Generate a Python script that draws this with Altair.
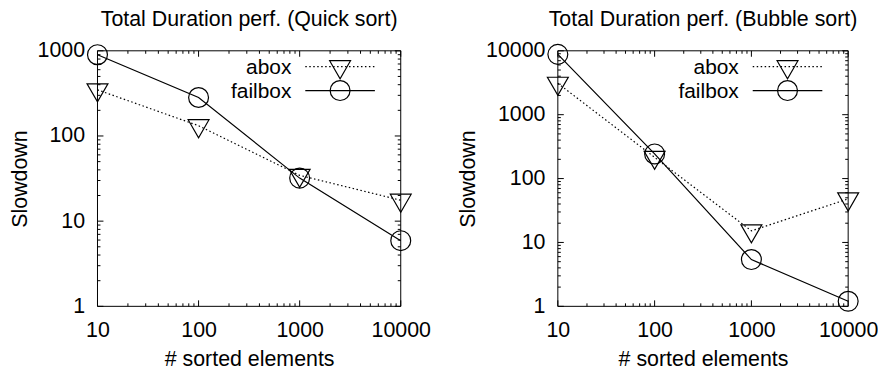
import altair as alt
import pandas as pd

# ---- data ----
x_sizes = [10, 100, 1000, 10000]
quick_abox = [348, 132, 34.5, 17.6]
quick_failbox = [900, 283, 32, 5.9]
bubble_abox = [3100, 215, 15.2, 48]
bubble_failbox = [8800, 243, 5.4, 1.2]

x_ticks = [10, 100, 1000, 10000]
quick_y_ticks = [1, 10, 100, 1000]
bubble_y_ticks = [1, 10, 100, 1000, 10000]
series_names = ["abox", "failbox"]

FONT = "Liberation Sans"
FS = 21.5
KFS = 21
TRI = "M-1,-0.577L1,-0.577L0,1.155Z"
H = 257


def minors(lo, hi):
    out = []
    d = lo
    while d < hi:
        out += [d * k for k in range(2, 10)]
        d *= 10
    return out


def panel(title, abox, failbox, ydom, yticks, W):
    xs = alt.Scale(type="log", domain=[10, 10000], nice=False)
    ys = alt.Scale(type="log", domain=ydom, nice=False)
    xax = alt.Axis(values=x_ticks, format="d", title="# sorted elements")
    yax = alt.Axis(values=yticks, format="d", title="Slowdown")
    df = pd.DataFrame({
        "n": x_sizes * 2,
        "v": abox + failbox,
        "s": [series_names[0]] * 4 + [series_names[1]] * 4,
    })
    base = alt.Chart(df)
    X = alt.X("n:Q", scale=xs, axis=xax)
    Y = alt.Y("v:Q", scale=ys, axis=yax)

    frame = alt.Chart(pd.DataFrame({"k": [0]})).mark_rect(
        fill=None, stroke="black", strokeWidth=1).encode(
        x=alt.value(0), x2=alt.value(W), y=alt.value(0), y2=alt.value(H))

    ab_line = base.transform_filter("datum.s == 'abox'").mark_line(
        color="black", strokeWidth=1.2, strokeDash=[1.5, 2.5]).encode(x=X, y=Y, order="n:Q")
    fb_line = base.transform_filter("datum.s == 'failbox'").mark_line(
        color="black", strokeWidth=1.2).encode(x=X, y=Y, order="n:Q")
    ab_pt = base.transform_filter("datum.s == 'abox'").mark_point(
        shape=TRI, size=441, filled=False, color="black", strokeWidth=1.2, opacity=1).encode(x=X, y=Y)
    fb_pt = base.transform_filter("datum.s == 'failbox'").mark_point(
        shape="circle", size=400, filled=False, color="black", strokeWidth=1.2, opacity=1).encode(x=X, y=Y)

    # inward ticks on all four sides
    ymaj = pd.DataFrame({"v": yticks})
    ymin = pd.DataFrame({"v": minors(ydom[0], ydom[1])})
    xmaj = pd.DataFrame({"n": x_ticks})
    xmin = pd.DataFrame({"n": minors(10, 10000)})
    tick_layers = []
    for d, ln in ((ymaj, 6), (ymin, 3)):
        for x0, x1 in ((0, ln), (W, W - ln)):
            tick_layers.append(alt.Chart(d).mark_rule(color="black", strokeWidth=1).encode(
                y=alt.Y("v:Q", scale=ys, axis=yax), x=alt.value(x0), x2=alt.value(x1)))
    for d, ln in ((xmaj, 6), (xmin, 3)):
        for y0, y1 in ((0, ln), (H, H - ln)):
            tick_layers.append(alt.Chart(d).mark_rule(color="black", strokeWidth=1).encode(
                x=alt.X("n:Q", scale=xs, axis=xax), y=alt.value(y0), y2=alt.value(y1)))

    # key (gnuplot style: label left of sample)
    key = []
    for i, name in enumerate(series_names):
        yy = 16 + 24 * i
        kd = pd.DataFrame({"label": [name]})
        key.append(alt.Chart(kd).mark_text(align="right", baseline="middle", font=FONT,
                                           fontSize=KFS, color="black").encode(
            text="label:N", x=alt.value(W - 110), y=alt.value(yy + 1)))
        rule_kw = dict(color="black", strokeWidth=1.2)
        if i == 0:
            rule_kw["strokeDash"] = [1.5, 2.5]
        key.append(alt.Chart(kd).mark_rule(**rule_kw).encode(
            x=alt.value(W - 96), x2=alt.value(W - 26), y=alt.value(yy)))
        key.append(alt.Chart(kd).mark_point(
            shape=TRI if i == 0 else "circle", size=441 if i == 0 else 400,
            filled=False, color="black", strokeWidth=1.2, opacity=1).encode(
            x=alt.value(W - 61), y=alt.value(yy)))

    return alt.layer(ab_line, fb_line, ab_pt, fb_pt, *tick_layers, frame, *key).properties(
        width=W, height=H,
        title=alt.TitleParams(title, font=FONT, fontSize=FS, fontWeight="normal",
                              color="black", offset=9),
    )


left = panel("Total Duration perf. (Quick sort)", quick_abox, quick_failbox,
             [1, 1000], quick_y_ticks, 305)
right = panel("Total Duration perf. (Bubble sort)", bubble_abox, bubble_failbox,
              [1, 10000], bubble_y_ticks, 292)

chart = alt.hconcat(left, right, spacing=158, bounds="flush").properties(
    padding={"left": 1, "top": 0, "right": 0, "bottom": 0},
    background="white",
).configure_view(stroke=None).configure_axis(
    grid=False, ticks=False, domain=False, labelFlush=False,
    labelFont=FONT, labelFontSize=FS, labelColor="black",
    titleFont=FONT, titleFontSize=FS, titleFontWeight="normal", titleColor="black",
).configure_axisY(labelPadding=13, titlePadding=6).configure_axisX(
    labelPadding=13, titlePadding=8
)

chart.save("out.html", embed_options={"renderer": "svg", "actions": False})
